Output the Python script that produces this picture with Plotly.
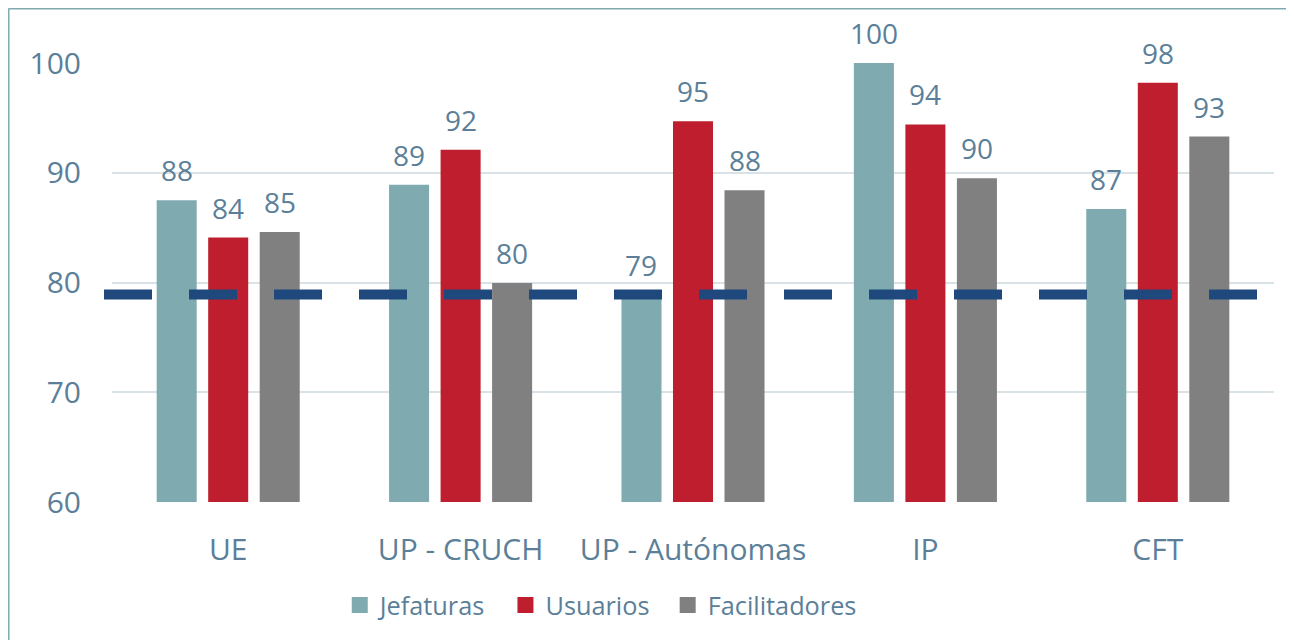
import plotly.graph_objects as go

categorias = ["UE", "UP - CRUCH", "UP - Autónomas", "IP", "CFT"]
jefaturas = [87.5, 88.9, 78.9, 100.0, 86.7]
usuarios = [84.1, 92.1, 94.7, 94.4, 98.2]
facilitadores = [84.6, 79.95, 88.4, 89.5, 93.3]
umbral = 78.9
series = [("Jefaturas", jefaturas, "#7FAAB0"),
          ("Usuarios", usuarios, "#BE1E2D"),
          ("Facilitadores", facilitadores, "#808080")]

txt = "#5B7F99"
FONT = "Open Sans"
W, H = 1294, 640
L, R, T, B = 104, 28, 55, 146
PW, PH = W - L - R, H - T - B
BARGAP, GROUPGAP = 0.335, 0.223
NBSP = "\u00a0"

fig = go.Figure()
for name, vals, col in series:
    fig.add_trace(go.Bar(
        x=categorias, y=vals, name=name, marker=dict(color=col, line=dict(width=0)),
        showlegend=False,
    ))
for k, (name, vals, col) in enumerate(series):
    pad = NBSP * 2 if k < len(series) - 1 else ""
    fig.add_trace(go.Scatter(
        x=[None], y=[None], mode="markers", name=name + pad,
        marker=dict(symbol="square", size=17, color=col),
    ))

# data labels above bars
slot = (1 - BARGAP) / len(series)
annotations = []
for k, (name, vals, col) in enumerate(series):
    off = (k - (len(series) - 1) / 2) * slot
    for i, v in enumerate(vals):
        annotations.append(dict(
            x=i + off, y=v, xref="x", yref="y", text=f"{v:.0f}", showarrow=False,
            yanchor="bottom", yshift=9, font=dict(family=FONT, size=28, color=txt),
        ))

fig.add_shape(type="line", xref="paper", yref="y", x0=-8 / PW, x1=1.0, y0=umbral, y1=umbral,
              line=dict(color="#1F497D", width=10, dash="48px,37px"), layer="above")
# outer frame: left and top edges
fx0 = (0.5 - L) / PW
fx1 = (W - L) / PW
fy0 = -B / PH
fy1 = 1 + (T - 0.5) / PH
fig.add_shape(type="line", xref="paper", yref="paper", x0=fx0, x1=fx0, y0=fy0, y1=fy1,
              line=dict(color="#7FAAB0", width=2), layer="below")
fig.add_shape(type="line", xref="paper", yref="paper", x0=fx0, x1=fx1, y0=fy1, y1=fy1,
              line=dict(color="#7FAAB0", width=2), layer="below")

fig.update_layout(
    width=W, height=H,
    margin=dict(l=L, r=R, t=T, b=B),
    paper_bgcolor="white", plot_bgcolor="white",
    barmode="group", bargap=BARGAP, bargroupgap=GROUPGAP,
    font=dict(family=FONT, color=txt),
    annotations=annotations,
    legend=dict(orientation="h", x=0.196, xanchor="left", y=-0.2346, yanchor="middle",
                font=dict(family=FONT, size=25.3, color=txt), itemwidth=30),
    xaxis=dict(showgrid=False, showline=False, ticks="", tickfont=dict(family=FONT, size=30, color=txt),
               ticklabelstandoff=27),
    yaxis=dict(range=[60, 100], tickvals=[60, 70, 80, 90, 100], showgrid=True, gridcolor="#D9E2E7",
               gridwidth=1.5, zeroline=False, showline=False, ticks="",
               tickfont=dict(family=FONT, size=30, color=txt), ticklabelstandoff=30),
)
fig.write_html("out.html")
